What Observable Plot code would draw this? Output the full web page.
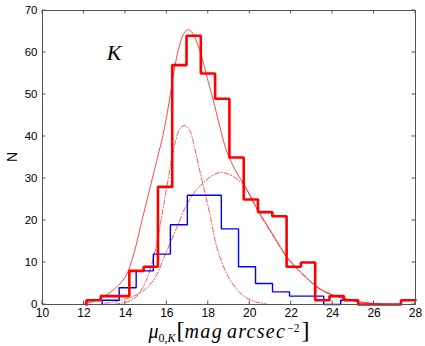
<!DOCTYPE html>
<html><head><meta charset="utf-8">
<script src="https://cdn.jsdelivr.net/npm/d3@7"></script>
<script src="https://cdn.jsdelivr.net/npm/@observablehq/plot@0.6"></script>
<style>body{margin:0;background:#fff}</style>
</head><body><div id="c"></div>
<script>
// Histogram (red, all galaxies): bin edges and counts
const redEdges = [12.12,12.81,13.50,14.19,14.88,15.57,16.26,16.95,17.64,18.33,19.02,19.71,20.40,21.09,21.78,22.47,23.16,23.85,24.54,25.23,25.92,26.61,27.30,27.99];
const redCounts = [1,2,2,8,9,28,57,64,55,49,35,25,22,21,9,10,1,2,1,0,0,0,1];
// Histogram (blue subsample)
const blueEdges = [12.88,13.70,14.52,15.35,16.17,16.99,17.81,18.63,19.46,20.28,21.10,21.92,22.74,23.57,24.39,25.21];
const blueCounts = [1,4,8,12,19,26,26,18,9,5,3,2,2,0,1];
// Fitted curves
const totalX = [12.0,12.5,13.0,13.5,14.0,14.4,14.8,15.2,15.6,15.8,16.0,16.2,16.4,16.6,16.8,17.0,17.2,17.4,17.65,18.0,18.3,18.6,18.9,19.3,19.7,20.1,20.4,21.1,21.5,21.8,22.45,23.0,23.4,24.0,24.4,25.0,25.5,26.0];
const totalY = [0.3,0.8,2.0,3.8,6.6,12,20,28,36,40,45,51,57,61.5,64.3,65.4,64.9,63,59.5,53,47.5,41.5,36.3,32,28.7,25.2,22.4,16.8,13.6,11.3,7.7,5.2,3.7,2.3,1.7,0.9,0.5,0.2];
const narrowX = [13.5,14.0,14.5,15.0,15.4,15.7,16.0,16.4,16.65,16.87,17.1,17.4,17.7,18.1,18.35,18.7,19.0,19.4,19.8,20.3,20.8];
const narrowY = [0.1,0.5,1.7,5.7,12,19.5,28,38.5,42,42.6,41.5,36,29.5,21,14.8,9.5,6.3,3.5,1.7,0.6,0.15];
const wideX = [13.0,13.5,14.0,14.5,15.0,15.45,15.94,16.42,16.9,17.3,17.7,18.1,18.55,19.0,19.47,19.75,20.1,20.4,21.1,21.8,22.5,23.4,24.4,25.5,26.5];
const wideY = [0.3,0.7,1.3,2.2,3.8,6.5,12.1,17.6,23.2,26.5,28.7,30.4,31.4,31.0,29.5,28.3,25.0,22.2,16.6,11.1,7.5,3.6,1.6,0.45,0.15];
// Axis ticks
const xTicks = [10,12,14,16,18,20,22,24,26,28];
const yTicks = [0,10,20,30,40,50,60,70];
const annotation = [{label: "K", x: 13.45, y: 60}];

function stepPoints(edges, counts, closeToZero) {
  const pts = [{x: edges[0], y: 0}];
  counts.forEach((c, i) => pts.push({x: edges[i], y: c}));
  pts.push({x: edges[edges.length - 1], y: counts[counts.length - 1]});
  if (closeToZero) pts.push({x: edges[edges.length - 1], y: 0});
  return pts;
}
const toPts = (xs, ys) => xs.map((x, i) => ({x, y: ys[i]}));

const redSteps = stepPoints(redEdges, redCounts, false);
const blueSteps = stepPoints(blueEdges, blueCounts, true);
const total = toPts(totalX, totalY);
const narrow = toPts(narrowX, narrowY);
const wide = toPts(wideX, wideY);

const chart = Plot.plot({
  width: 425, height: 346,
  marginLeft: 42, marginRight: 10, marginTop: 10, marginBottom: 42,
  x: {domain: [10, 28]},
  y: {domain: [0, 70]},
  style: {fontFamily: "'Liberation Sans', Arial, sans-serif", fontSize: "11.5px", color: "#000", background: "#fff"},
  marks: [
    Plot.line(narrow, {x: "x", y: "y", stroke: "#ff0000", strokeOpacity: 0.75, strokeWidth: 0.9, strokeDasharray: "5,2,1,2", curve: "catmull-rom"}),
    Plot.line(wide, {x: "x", y: "y", stroke: "#ff0000", strokeOpacity: 0.75, strokeWidth: 0.9, strokeDasharray: "5,2,1,2", curve: "catmull-rom"}),
    Plot.line(total, {x: "x", y: "y", stroke: "#ff0000", strokeOpacity: 0.8, strokeWidth: 0.9, curve: "catmull-rom"}),
    Plot.line(blueSteps, {x: "x", y: "y", stroke: "#0000ff", strokeWidth: 1.4, curve: "step-after", strokeLinejoin: "miter", strokeLinecap: "square"}),
    Plot.line(redSteps, {x: "x", y: "y", stroke: "#ff0000", strokeWidth: 2.6, curve: "step-after", strokeLinejoin: "miter", strokeLinecap: "square"}),
    Plot.frame({stroke: "#555"}),
    Plot.axisX(xTicks, {tickSize: 0, tickPadding: 4, label: null, fontSize: 12}),
    Plot.axisY(yTicks, {tickSize: 0, tickPadding: 5, label: null, fontSize: 11.5}),
    Plot.text(annotation, {x: "x", y: "y", text: "label", fontFamily: "'Liberation Serif', 'Times New Roman', serif", fontStyle: "italic", fontSize: 22})
  ]
});

// inward MATLAB-style ticks on all four sides, placed with the plot's own scales
const sx = chart.scale("x"), sy = chart.scale("y");
const svg = d3.select(chart);
const g = svg.append("g").attr("stroke", "#555").attr("stroke-width", 1);
const L = 3.5;
const yb = sy.apply(0), yt = sy.apply(70), xl = sx.apply(10), xr = sx.apply(28);
xTicks.forEach(v => {
  const p = sx.apply(v);
  g.append("line").attr("x1", p).attr("x2", p).attr("y1", yb).attr("y2", yb - L);
  g.append("line").attr("x1", p).attr("x2", p).attr("y1", yt).attr("y2", yt + L);
});
yTicks.forEach(v => {
  const p = sy.apply(v);
  g.append("line").attr("y1", p).attr("y2", p).attr("x1", xl).attr("x2", xl + L);
  g.append("line").attr("y1", p).attr("y2", p).attr("x1", xr).attr("x2", xr - L);
});

// y label
svg.append("text").attr("transform", "translate(13,157) rotate(-90)")
  .attr("text-anchor", "middle").attr("dominant-baseline", "middle")
  .attr("font-family", "'Liberation Sans', Arial, sans-serif").attr("font-size", 14).attr("fill", "#000")
  .text("N");

// x label with sub/superscripts
const xl2 = svg.append("text").attr("x", 229).attr("y", 338).attr("text-anchor", "middle")
  .attr("font-family", "'Liberation Serif', 'Times New Roman', serif").attr("font-size", 20).attr("fill", "#000");
xl2.append("tspan").attr("font-style", "italic").text("μ");
xl2.append("tspan").attr("font-size", 12).attr("dy", 4).text("0,");
xl2.append("tspan").attr("font-size", 12).attr("font-style", "italic").text("K");
xl2.append("tspan").attr("dy", -4).attr("font-size", 24).attr("dx", 1).text("[");
xl2.append("tspan").attr("font-style", "italic").attr("letter-spacing", "1.3").text("mag");
xl2.append("tspan").attr("font-style", "italic").attr("dx", 4).attr("letter-spacing", "1.3").text("arcsec");
xl2.append("tspan").attr("font-size", 11.5).attr("dy", -6).attr("dx", 1).text("−2");
xl2.append("tspan").attr("font-size", 24).attr("dy", 6).attr("dx", 2).text("]");

document.getElementById("c").appendChild(chart);
</script>
</body></html>
